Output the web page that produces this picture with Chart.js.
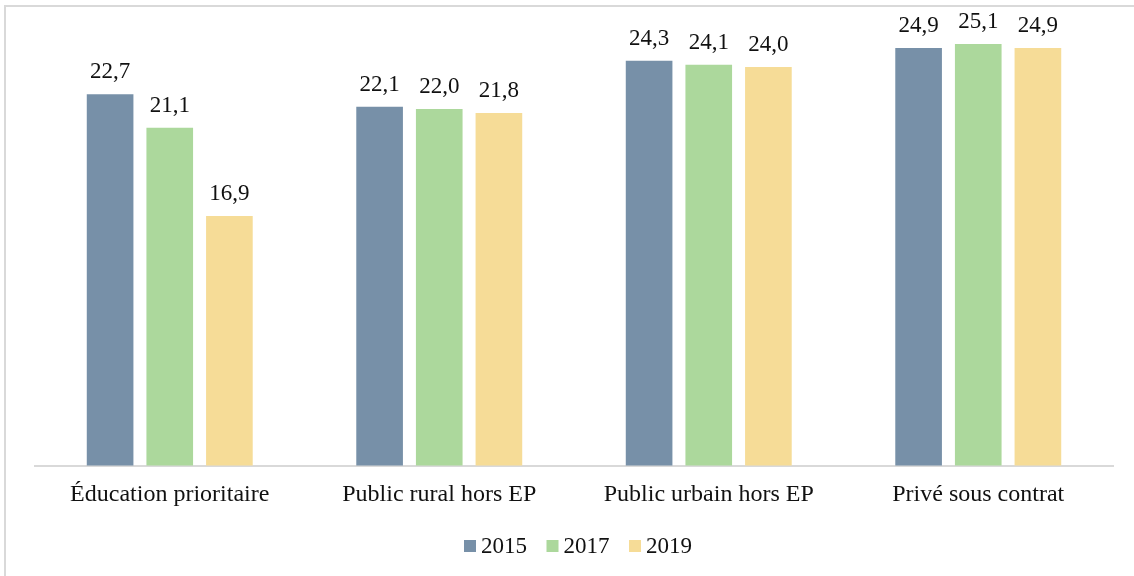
<!DOCTYPE html>
<html><head><meta charset="utf-8">
<script src="https://cdn.jsdelivr.net/npm/chart.js@4/dist/chart.umd.min.js"></script>
<style>html,body{margin:0;padding:0;background:#fff;}#wrap{width:1134px;height:576px;position:relative;}</style>
</head><body><div id="wrap"><canvas id="c" width="1134" height="576"></canvas></div>
<script>
const categories = ["Éducation prioritaire", "Public rural hors EP", "Public urbain hors EP", "Privé sous contrat"];
const seriesLabels = ["2015", "2017", "2019"];
const values2015 = [22.7, 22.1, 24.3, 24.9];
const values2017 = [21.1, 22.0, 24.1, 25.1];
const values2019 = [16.9, 21.8, 24.0, 24.9];
const colors = ["#7790a8", "#acd89c", "#f6dc97"];
const FONT = "23px 'Liberation Serif', 'Times New Roman', serif";

const frame = {
  id: 'frame',
  beforeDraw(chart) {
    const ctx = chart.ctx;
    ctx.save();
    ctx.fillStyle = '#fff';
    ctx.fillRect(0, 0, chart.width, chart.height);
    ctx.strokeStyle = '#d9d9d9';
    ctx.lineWidth = 2;
    ctx.strokeRect(5, 6, 1200, 700);
    ctx.restore();
  }
};

const labelsPlugin = {
  id: 'valueLabels',
  afterDatasetsDraw(chart) {
    const ctx = chart.ctx;
    ctx.save();
    ctx.font = FONT;
    ctx.fillStyle = '#111';
    ctx.textAlign = 'center';
    ctx.textBaseline = 'alphabetic';
    chart.data.datasets.forEach((ds, i) => {
      chart.getDatasetMeta(i).data.forEach((bar, j) => {
        ctx.fillText(ds.data[j].toFixed(1).replace('.', ','), bar.x, bar.y - 16);
      });
    });
    ctx.restore();
  }
};

const legendPlugin = {
  id: 'customLegend',
  afterDraw(chart) {
    const ctx = chart.ctx;
    ctx.save();
    ctx.font = FONT;
    const box = 12, gapText = 5, gapItem = 19.5;
    const items = chart.data.datasets.map(ds => ({label: ds.label, color: ds.backgroundColor, w: ctx.measureText(ds.label).width}));
    let total = items.reduce((s, it) => s + box + gapText + it.w, 0) + gapItem * (items.length - 1);
    let x = 578 - total / 2;
    ctx.textBaseline = 'alphabetic';
    ctx.textAlign = 'left';
    items.forEach(it => {
      ctx.fillStyle = it.color;
      ctx.fillRect(x, 540, box, box);
      ctx.fillStyle = '#111';
      ctx.fillText(it.label, x + box + gapText, 553);
      x += box + gapText + it.w + gapItem;
    });
    ctx.restore();
  }
};

new Chart(document.getElementById('c'), {
  type: 'bar',
  data: {
    labels: categories,
    datasets: [
      {label: seriesLabels[0], data: values2015, backgroundColor: colors[0]},
      {label: seriesLabels[1], data: values2017, backgroundColor: colors[1]},
      {label: seriesLabels[2], data: values2019, backgroundColor: colors[2]}
    ]
  },
  options: {
    responsive: false,
    animation: false,
    events: [],
    categoryPercentage: 0.664,
    barPercentage: 0.782,
    layout: {padding: {left: 35, right: 21, top: 25, bottom: 50.5}},
    plugins: {legend: {display: false}, tooltip: {enabled: false}},
    scales: {
      y: {display: false, min: 5, max: 26},
      x: {
        grid: {display: false, drawTicks: false},
        border: {display: true, color: '#d9d9d9', width: 2},
        ticks: {font: {family: "'Liberation Serif', 'Times New Roman', serif", size: 24}, color: '#111', padding: 15, maxRotation: 0, autoSkip: false},
        afterFit: s => { s.height = 60; }
      }
    }
  },
  plugins: [frame, labelsPlugin, legendPlugin]
});
</script></body></html>
